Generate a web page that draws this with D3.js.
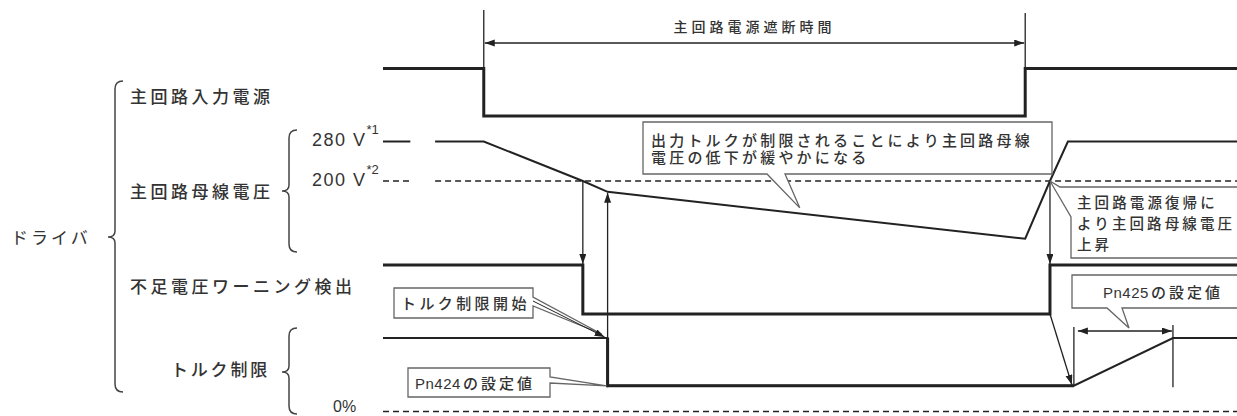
<!DOCTYPE html>
<html><head><meta charset="utf-8">
<script src="https://cdn.jsdelivr.net/npm/d3@7"></script>
<style>
body{margin:0;background:#fff}
svg{display:block}
text{font-family:"Liberation Sans","Noto Sans CJK JP",sans-serif;fill:#333}
.jp{font-family:"Noto Sans CJK JP",sans-serif}
</style></head><body><svg id="chart" width="1237" height="416"></svg>
<script>
// time points (arbitrary units across the diagram, 0..100)
const tStart = 0, tEnd = 100
const tGap = [3.2, 6.1]
const tPowerOff = 11.8, tWarn = 23.4, tLimit = 26.3
const tPowerOn = 75.2, tWarnOff = 78.1, tBusUp = 80.2
const tRestart = 80.9, tRecover = 92.5

// signals [time, value]
const powerInput = [[tStart,1],[tPowerOff,1],[tPowerOff,0],[tPowerOn,0],[tPowerOn,1],[tEnd,1]]
const busVoltage = [[tStart,280],[tGap[0],280],null,[tGap[1],280],[tPowerOff,280],[tWarn,200],[tLimit,178],[tPowerOn,83],[tWarnOff,200],[tBusUp,280],[tEnd,280]]
const warning = [[tStart,1],[tWarn,1],[tWarn,0],[tWarnOff,0],[tWarnOff,1],[tEnd,1]]
const torque = [[tStart,100],[tLimit,100],[tLimit,35],[tRestart,35],[tRecover,100],[tEnd,100]]

const voltageTicks = [{v:280, label:"280 V", note:"*1"}, {v:200, label:"200 V", note:"*2"}]
const signalNames = ["主回路入力電源", "主回路母線電圧", "不足電圧ワーニング検出", "トルク制限"]
const groupName = "ドライバ"
const title = "主回路電源遮断時間"
const callout1 = ["出力トルクが制限されることにより主回路母線", "電圧の低下が緩やかになる"]
const callout2 = ["主回路電源復帰に", "より主回路母線電圧", "上昇"]

const svg = d3.select("#chart")

const x = d3.scaleLinear().domain([tStart, tEnd]).range([383, 1237])
const yPower = d3.scaleLinear().domain([0, 1]).range([116, 68.5])
const yBus = d3.scaleLinear().domain([200, 280]).range([181, 141.5])
const yWarn = d3.scaleLinear().domain([0, 1]).range([314, 265])
const yTorque = d3.scaleLinear().domain([0, 100]).range([411.5, 338])

const defs = svg.append("defs")
defs.append("marker").attr("id", "arr")
    .attr("markerUnits", "userSpaceOnUse")
    .attr("markerWidth", 11).attr("markerHeight", 8)
    .attr("refX", 10).attr("refY", 3.5).attr("orient", "auto-start-reverse")
    .append("path").attr("d", "M0,0 L10,3.5 L0,7 Z").attr("fill", "#222")

function lineOf(y) {
    return d3.line().defined(d => d != null).x(d => x(d[0])).y(d => y(d[1]))
}
function seg(x1, y1, x2, y2, w, opts) {
    const l = svg.append("line").attr("x1", x1).attr("y1", y1).attr("x2", x2).attr("y2", y2)
        .attr("stroke", "#222").attr("stroke-width", w || 1.3)
    if (opts && opts.end) l.attr("marker-end", "url(#arr)")
    if (opts && opts.start) l.attr("marker-start", "url(#arr)")
    if (opts && opts.dash) l.attr("stroke-dasharray", opts.dash)
    return l
}

// dashed reference lines (200 V and 0 %)
seg(x(tStart), yBus(200), x(tGap[0]), yBus(200), 1.3, {dash: "6,4"})
seg(x(tGap[1]), yBus(200), x(tEnd), yBus(200), 1.3, {dash: "6,4"})
seg(x(tStart), yTorque(0), x(tEnd), yTorque(0), 1.3, {dash: "6,4"})

// signals
svg.append("path").datum(powerInput).attr("d", lineOf(yPower))
    .attr("fill", "none").attr("stroke", "#222").attr("stroke-width", 3)
svg.append("path").datum(busVoltage).attr("d", lineOf(yBus))
    .attr("fill", "none").attr("stroke", "#222").attr("stroke-width", 2)
svg.append("path").datum(warning).attr("d", lineOf(yWarn))
    .attr("fill", "none").attr("stroke", "#222").attr("stroke-width", 3)
svg.append("path").datum(torque).attr("d", lineOf(yTorque))
    .attr("fill", "none").attr("stroke", "#222").attr("stroke-width", 2)
svg.append("path").datum(torque.slice(1, 4)).attr("d", lineOf(yTorque))
    .attr("fill", "none").attr("stroke", "#222").attr("stroke-width", 3)

// power cut duration
seg(x(tPowerOff), 10, x(tPowerOff), yPower(1), 1.3)
seg(x(tPowerOn), 13, x(tPowerOn), yPower(1), 1.3)
seg(x(tPowerOff) + 1, 43, x(tPowerOn) - 1, 43, 1.3, {start: true, end: true})
svg.append("text").attr("class", "jp").attr("x", (x(tPowerOff) + x(tPowerOn)) / 2).attr("y", 32)
    .attr("text-anchor", "middle").style("font-size", "14px").style("letter-spacing", "4px")
    .style("font-weight", 500).text(title)

// timing arrows
seg(x(tWarn), yBus(200), x(tWarn), yWarn(1) - 1, 1.3, {end: true})
seg(x(tLimit), yTorque(33), x(tLimit), yBus(178) + 1, 1.3, {end: true})
seg(x(tWarnOff), yBus(200), x(tWarnOff), yWarn(1) - 1, 1.3, {end: true})
seg(x(tWarnOff), yWarn(0), x(tRestart) - 2, yTorque(35) - 1, 1.3, {end: true})

// Pn425 span
seg(x(tRestart), 327, x(tRestart), yTorque(35), 1.3)
seg(x(tRecover), 325, x(tRecover), yTorque(33), 1.3)
seg(x(tRestart) + 4, 331, x(tRecover) - 1, 331, 1.3, {start: true, end: true})

// callouts
function callout(d) {
    svg.append("path").attr("d", d).attr("fill", "#fff")
        .attr("stroke", "#666").attr("stroke-width", 1.3)
}
callout("M643,122 H1052 V174 H785 L" + x(tPowerOff + 37) + "," + (yBus(178) + 16) + " L767,174 H643 Z")
callout("M" + x(tWarnOff) + "," + yBus(200) + " L1060,187 H1245 V258 H1071 V217 Z")
callout("M394,288 H533 V297 L" + (x(tLimit) - 6) + "," + (yTorque(100) - 4) + " L533,306 V318 H394 Z")
seg(533, 301, x(tLimit) - 3, yTorque(100) - 1, 1, {end: true})
callout("M408,368 H550 V377 L" + (x(tLimit) - 1) + "," + yTorque(35) + " L550,383 V397 H408 Z")
callout("M1072,275 H1245 V308 H1122 L1129,328 L1107,308 H1072 Z")

const jpText = (t, px, py, size, ls, anchor) => svg.append("text")
    .attr("x", px).attr("y", py).attr("dominant-baseline", "central")
    .attr("text-anchor", anchor || "start")
    .style("font-size", size + "px").style("letter-spacing", ls + "px")
    .style("font-weight", 500).text(t)

// "PnXXX" + Japanese part with spacing only on the Japanese
function pnText(code, rest, px, py) {
    const t = svg.append("text").attr("x", px).attr("y", py).attr("dominant-baseline", "central")
        .style("font-size", "15px").style("font-weight", 500)
    t.append("tspan").style("letter-spacing", "0.5px").text(code)
    t.append("tspan").attr("dx", 2).style("letter-spacing", "3px").text(rest)
}

callout1.forEach((t, i) => jpText(t, 651, 140 + i * 17, 15, 3.2))
callout2.forEach((t, i) => jpText(t, 1077, 203 + i * 21, 14.5, 3.1))
jpText("トルク制限開始", 401, 303, 15, 3.4)
pnText("Pn424", "の設定値", 415, 383)
pnText("Pn425", "の設定値", 1103, 292)

// row labels
jpText(signalNames[0], 130, 97, 17, 3.5)
jpText(signalNames[1], 130, 192, 17, 3.5)
jpText(signalNames[2], 130, 287, 17, 3.5)
jpText(signalNames[3], 270, 370, 17, 2.8, "end")
jpText(groupName, 11, 238, 17, 3).style("font-weight", "normal")

// voltage / torque level labels
voltageTicks.forEach(d => {
    const t = svg.append("text").attr("x", 312).attr("y", yBus(d.v) + 4.5)
        .style("font-size", "18px").style("letter-spacing", "1.5px")
    t.append("tspan").text(d.label)
    t.append("tspan").attr("dy", -12).style("font-size", "13px").style("letter-spacing", "0px").text(d.note)
})
svg.append("text").attr("x", 333).attr("y", yTorque(0) - 5).attr("dominant-baseline", "central")
    .style("font-size", "16px").text("0%")

// braces
function brace(bx, top, mid, bottom) {
    const p = `M${bx + 8},${top} Q${bx},${top} ${bx},${top + 8} V${mid - 6} Q${bx},${mid} ${bx - 7},${mid}` +
        ` Q${bx},${mid} ${bx},${mid + 6} V${bottom - 8} Q${bx},${bottom} ${bx + 8},${bottom}`
    svg.append("path").attr("d", p).attr("fill", "none").attr("stroke", "#444").attr("stroke-width", 1.5)
}
brace(115, 81, 237, 392)
brace(289, 130, 191, 252)
brace(289, 328, 372, 414)
</script></body></html>
